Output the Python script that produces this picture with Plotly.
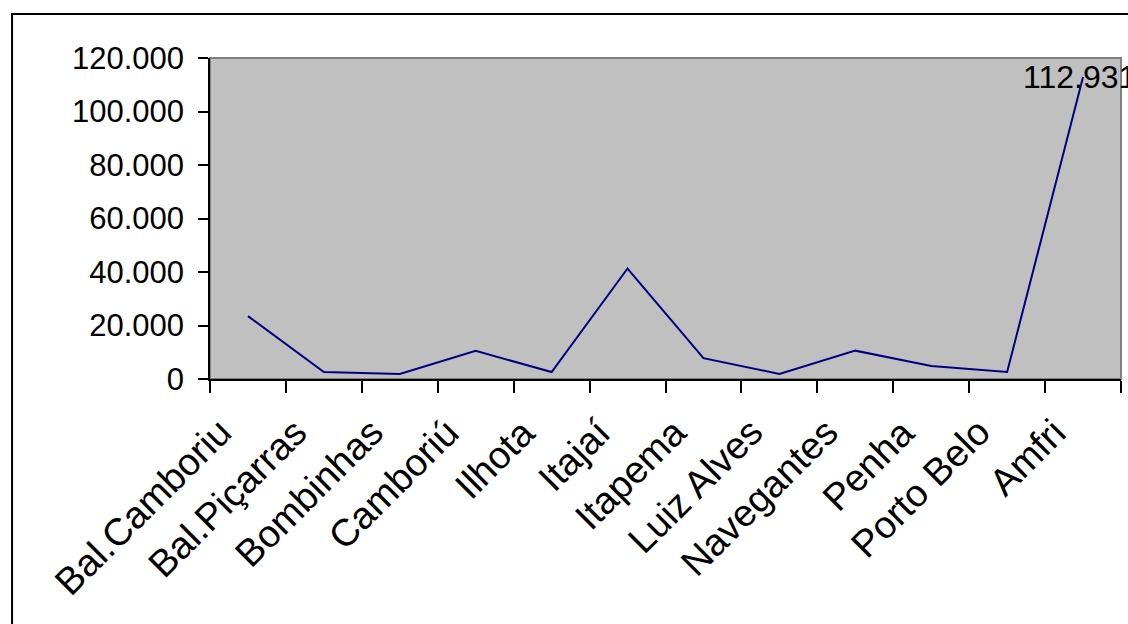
import plotly.graph_objects as go

# Municipalities of the AMFRI region and the total
municipios = ["Bal.Camboriu", "Bal.Piçarras", "Bombinhas", "Camboriú", "Ilhota",
              "Itajaí", "Itapema", "Luiz Alves", "Navegantes", "Penha",
              "Porto Belo", "Amfri"]
valores = [23500, 2600, 1900, 10500, 2600, 41300, 7800, 1900, 10600, 4900, 2600, 112931]

y_ticks = [0, 20000, 40000, 60000, 80000, 100000, 120000]

FONT = "Liberation Sans, Arial, sans-serif"

fig = go.Figure()
fig.add_trace(go.Scatter(
    x=municipios, y=valores, mode="lines",
    line=dict(color="#000080", width=2),
    showlegend=False, hoverinfo="x+y",
))

# value label on the total
fig.add_annotation(
    x=municipios[-1], y=valores[-1],
    text=f"{valores[-1]:,}".replace(",", "."),
    showarrow=False, xanchor="center", yanchor="middle", xshift=-4,
    font=dict(family=FONT, size=32, color="black"),
)

# slanted category labels, hung from the top-right corner below each category
for nome in municipios:
    fig.add_annotation(
        x=nome, y=0, text=nome, textangle=-45,
        showarrow=False, xanchor="right", yanchor="top",
        xshift=-6, yshift=-29,
        font=dict(family=FONT, size=38, color="black"),
    )

# plot-area border (grey) and outer chart frame (black)
fig.add_shape(type="rect", xref="paper", yref="paper", x0=0, y0=0, x1=1, y1=1,
              line=dict(color="#808080", width=2), layer="below")
fig.add_shape(type="rect", xref="paper", yref="paper",
              x0=-0.2173, y0=-0.95, x1=1.2, y1=1.137,
              line=dict(color="black", width=2), layer="above")

fig.update_layout(
    width=1128, height=624,
    margin=dict(l=210, r=7, t=58, b=245),
    paper_bgcolor="white", plot_bgcolor="#C0C0C0",
    separators=",.",
    font=dict(family=FONT, size=31, color="black"),
    xaxis=dict(
        type="category", range=[-0.5, len(municipios) - 0.5],
        ticks="outside", ticklen=12, tickwidth=1.5, tickcolor="black",
        tickson="boundaries", showline=True, linecolor="black", linewidth=1.5,
        showgrid=False, zeroline=False, showticklabels=False,
    ),
    yaxis=dict(
        range=[0, 120000], tickvals=y_ticks, tickformat=",d",
        ticks="outside", ticklen=10, tickwidth=1.5, tickcolor="black",
        showline=True, linecolor="black", linewidth=1.5,
        showgrid=False, zeroline=False, ticklabelstandoff=8,
        tickfont=dict(family=FONT, size=31, color="black"),
    ),
)

fig.write_html("out.html")
